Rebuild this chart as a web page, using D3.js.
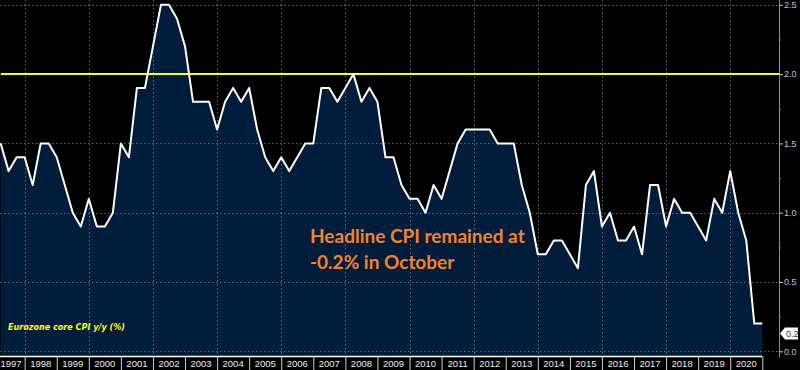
<!DOCTYPE html>
<html>
<head>
<meta charset="utf-8">
<script src="https://cdn.jsdelivr.net/npm/d3@7"></script>
<style>
  body { margin: 0; background: #000; }
  svg { display: block; }
</style>
</head>
<body>
<script>
// quarterly readings, first point is end of Q1 1997
var firstQuarter = 1997.25;
var coreCpi = [
  1.5, 1.3, 1.4, 1.4, 1.2, 1.5, 1.5, 1.4, 1.2, 1.0,
  0.9, 1.1, 0.9, 0.9, 1.0, 1.5, 1.4, 1.9, 1.9, 2.2,
  2.5, 2.5, 2.4, 2.2, 1.8, 1.8, 1.8, 1.6, 1.8, 1.9,
  1.8, 1.9, 1.6, 1.4, 1.3, 1.4, 1.3, 1.4, 1.5, 1.5,
  1.9, 1.9, 1.8, 1.9, 2.0, 1.8, 1.9, 1.8, 1.4, 1.4,
  1.2, 1.1, 1.1, 1.0, 1.2, 1.1, 1.3, 1.5, 1.6, 1.6,
  1.6, 1.6, 1.5, 1.5, 1.5, 1.2, 1.0, 0.7, 0.7, 0.8,
  0.8, 0.7, 0.6, 1.2, 1.3, 0.9, 1.0, 0.8, 0.8, 0.9,
  0.7, 1.2, 1.2, 0.9, 1.1, 1.0, 1.0, 0.9, 0.8, 1.1,
  1.0, 1.3, 1.0, 0.8, 0.2, 0.2
];
var yearLabels = d3.range(1997, 2021);
var gridYears = [1998, 2000, 2002, 2004, 2006, 2008, 2010, 2012, 2014, 2016, 2018, 2020];
var majorTicks = [0, 0.5, 1.0, 1.5, 2.0, 2.5];
var minorTicks = [0.25, 0.75, 1.25, 1.75, 2.25];
var targetLevel = 2.0;
var lastValue = 0.2;
var seriesName = "Eurozone core CPI y/y (%)";
var noteLines = ["Headline CPI remained at", "-0.2% in October"];

var width = 800, height = 370;
var axisX = 779, baseY = 356.5;

var svg = d3.select("body").append("svg")
    .attr("width", width)
    .attr("height", height);

svg.append("rect").attr("width", width).attr("height", height).attr("fill", "#000");

var x = d3.scaleLinear().domain([1997, 2021]).range([-7.4, 762.3]);
var y = d3.scaleLinear().domain([0, 2.5]).range([351.3, 4.8]);

var data = coreCpi.map(function(v, i) {
    return {t: firstQuarter + i * 0.25, v: v};
});

// filled area under the series
var area = d3.area()
    .x(function(d) { return x(d.t); })
    .y0(baseY)
    .y1(function(d) { return y(d.v); });

svg.append("path")
    .datum(data)
    .attr("fill", "#021d3b")
    .attr("d", area);

// dotted grid
var grid = svg.append("g").attr("stroke", "#7a8492").attr("stroke-width", 1)
    .attr("stroke-dasharray", "1.5,2.5").attr("opacity", 0.75);

grid.selectAll("line.h")
    .data(majorTicks)
    .enter().append("line")
    .attr("class", "h")
    .attr("x1", 0).attr("x2", axisX)
    .attr("y1", function(d) { return Math.round(y(d)) + 0.5; })
    .attr("y2", function(d) { return Math.round(y(d)) + 0.5; });

grid.selectAll("line.v")
    .data(gridYears)
    .enter().append("line")
    .attr("class", "v")
    .attr("x1", function(d) { return Math.round(x(d)) + 0.5; })
    .attr("x2", function(d) { return Math.round(x(d)) + 0.5; })
    .attr("y1", 0).attr("y2", baseY);

// 2% line
svg.append("line")
    .attr("x1", 1).attr("x2", axisX)
    .attr("y1", y(targetLevel)).attr("y2", y(targetLevel))
    .attr("stroke", "#ffff00")
    .attr("stroke-width", 2);

// the series line
var line = d3.line()
    .x(function(d) { return x(d.t); })
    .y(function(d) { return y(d.v); });

svg.append("path")
    .datum(data)
    .attr("fill", "none")
    .attr("stroke", "#ffffff")
    .attr("stroke-width", 2)
    .attr("stroke-linejoin", "round")
    .attr("d", line);

// bottom axis: separators at year boundaries, labels in the middle
var xAxis = d3.axisBottom(x)
    .tickValues(d3.range(1998, 2022))
    .tickSize(14)
    .tickFormat("");

var gx = svg.append("g")
    .attr("transform", "translate(0," + baseY + ")")
    .call(xAxis);
gx.select(".domain").remove();
gx.selectAll(".tick line").attr("stroke", "#d0d0d0");
gx.append("line")
    .attr("x1", 0).attr("x2", x(2021))
    .attr("stroke", "#ffffff").attr("stroke-width", 1.5);

// first label is pushed inside the frame, as in the original
svg.append("g").selectAll("text")
    .data(yearLabels)
    .enter().append("text")
    .attr("x", function(d) { return Math.max(x(d + 0.5), 11); })
    .attr("y", 367)
    .attr("text-anchor", "middle")
    .style("font", "9.5px 'Liberation Sans', sans-serif")
    .attr("fill", "#ececec")
    .text(function(d) { return d; });

// right axis
var yAxis = d3.axisRight(y)
    .tickValues(majorTicks)
    .tickSize(4)
    .tickPadding(1)
    .tickFormat(d3.format(".1f"));

var gy = svg.append("g")
    .attr("transform", "translate(" + axisX + ",0)")
    .call(yAxis);
gy.select(".domain").attr("stroke", "#8a8f96").attr("d", "M0.5,0V" + (baseY + 1));
gy.selectAll(".tick line").attr("stroke", "#c8d2e0");
gy.selectAll(".tick text")
    .attr("fill", "#b9c6d8")
    .style("font", "9px 'Liberation Sans', sans-serif");

var gyMinor = svg.append("g")
    .attr("transform", "translate(" + axisX + ",0)")
    .call(d3.axisRight(y).tickValues(minorTicks).tickSize(2).tickFormat(""));
gyMinor.select(".domain").remove();
gyMinor.selectAll(".tick line").attr("stroke", "#8a8f96");

// last value tag
var tagY = y(lastValue) + 10;
var tag = svg.append("g").attr("transform", "translate(" + axisX + "," + tagY + ")");
tag.append("path")
    .attr("d", "M1,0 L6,-6 H19 V6 H6 Z")
    .attr("fill", "#ffffff");
tag.append("text")
    .attr("x", 7).attr("y", 3.5)
    .attr("fill", "#333")
    .style("font", "9px 'Liberation Sans', sans-serif")
    .text(d3.format(".1f")(lastValue));

// series legend
svg.append("text")
    .attr("x", 8).attr("y", 330)
    .attr("fill", "#ffff00")
    .style("font", "italic bold 9.5px 'DejaVu Sans', sans-serif")
    .attr("textLength", 117)
    .attr("lengthAdjust", "spacingAndGlyphs")
    .text(seriesName);

// annotation
svg.append("g").selectAll("text")
    .data(noteLines)
    .enter().append("text")
    .attr("x", 310)
    .attr("y", function(d, i) { return 243 + i * 26; })
    .attr("fill", "#f5822a")
    .style("font", "bold 19px Lato, sans-serif")
    .text(function(d) { return d; });
</script>
</body>
</html>
